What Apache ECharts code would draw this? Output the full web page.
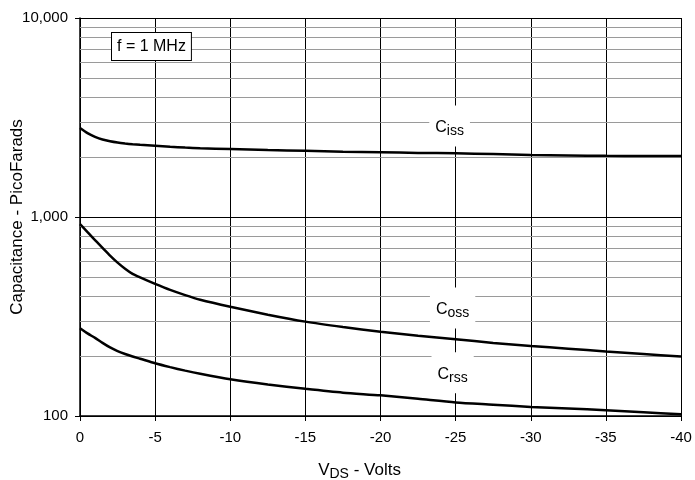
<!DOCTYPE html>
<html>
<head>
<meta charset="utf-8">
<script src="https://cdn.jsdelivr.net/npm/echarts@6/dist/echarts.min.js"></script>
<style>html,body{margin:0;padding:0;background:#fff}#c{width:695px;height:480px}</style>
</head>
<body>
<div id="c"></div>
<script>
// ---- data ----
var vds  = [0, -0.5, -1, -1.5, -2, -2.5, -3, -3.5, -4, -5, -6, -7, -8, -10, -12.5, -15, -17.5, -20, -22.5, -25, -27.5, -30, -32.5, -35, -37.5, -40];
var ciss = [2800, 2640, 2530, 2450, 2400, 2365, 2340, 2320, 2305, 2280, 2255, 2232, 2215, 2195, 2170, 2150, 2130, 2115, 2100, 2090, 2070, 2050, 2038, 2030, 2027, 2025];
var coss = [920, 840, 765, 700, 640, 590, 550, 518, 497, 461, 430, 405, 384, 354, 323, 298, 280, 265, 253, 243, 233, 225, 218, 211, 205, 199];
var crss = [276, 260, 247, 233, 221, 212, 205, 199, 194, 184, 176, 169, 163, 153, 144, 137, 131, 127, 122, 117, 114, 111, 109, 107, 104.5, 102];
var minorGrid = [200, 300, 400, 500, 600, 700, 800, 900, 2000, 3000, 4000, 5000, 6000, 7000, 8000, 9000];
var curveLabels = [
  {sub: 'iss', v: -24.6, c: 2866},
  {sub: 'oss', v: -24.8, c: 349},
  {sub: 'rss', v: -24.8, c: 165}
];
var xTitleMain = 'V', xTitleSub = 'DS', xTitleRest = ' - Volts';
var yTitle = 'Capacitance - PicoFarads';
var noteText = 'f = 1 MHz';

var FONT = "'Liberation Sans', Arial, sans-serif";
function pairs(xs, ys) { return xs.map(function (x, i) { return [x, ys[i]]; }); }

function curve(name, ys) {
  return {
    name: name, type: 'line', data: pairs(vds, ys), showSymbol: false, symbol: 'none',
    smooth: 0.25, z: 5, silent: true,
    lineStyle: {color: '#000', width: 2.5}
  };
}

var chart = echarts.init(document.getElementById('c'), null, {renderer: 'canvas'});
chart.setOption({
  animation: false,
  backgroundColor: '#fff',
  textStyle: {fontFamily: FONT},
  grid: {left: 80, right: 14, top: 18, bottom: 64, containLabel: false, outerBoundsMode: 'none'},
  xAxis: {
    type: 'value', min: -40, max: 0, interval: 5, inverse: true,
    name: '{a|' + xTitleMain + '}{b|' + xTitleSub + '}{a|' + xTitleRest + '}',
    nameLocation: 'middle', nameGap: 44, nameMoveOverlap: false,
    nameTextStyle: {
      padding: [0, 42, 0, 0],
      rich: {
        a: {fontSize: 17, color: '#000', fontFamily: FONT},
        b: {fontSize: 14, color: '#000', fontFamily: FONT, padding: [7, 0, 0, 0]}
      }
    },
    axisLine: {show: true, lineStyle: {color: '#000', width: 1.5}},
    axisTick: {show: true, length: 5, lineStyle: {color: '#000'}},
    axisLabel: {color: '#000', fontSize: 15, margin: 14, fontFamily: FONT},
    splitLine: {show: true, lineStyle: {color: '#000', width: 1}}
  },
  yAxis: {
    type: 'log', logBase: 10, min: 100, max: 10000,
    name: yTitle, nameLocation: 'middle', nameGap: 54, nameRotate: 90, nameMoveOverlap: false,
    nameTextStyle: {color: '#000', fontSize: 17, fontFamily: FONT},
    axisLine: {show: true, lineStyle: {color: '#000', width: 1.5}},
    axisTick: {show: true, length: 5, lineStyle: {color: '#000'}},
    axisLabel: {
      color: '#000', fontSize: 15, margin: 12, fontFamily: FONT,
      formatter: function (v) { return Math.round(v).toLocaleString('en-US'); }
    },
    splitLine: {show: true, lineStyle: {color: '#000', width: 1}}
  },
  series: [
    {
      name: 'minor', type: 'line', data: [], z: 1, silent: true,
      markLine: {
        silent: true, symbol: ['none', 'none'], animation: false,
        label: {show: false},
        lineStyle: {color: '#9a9a9a', width: 1, type: 'solid'},
        emphasis: {disabled: true},
        data: minorGrid.map(function (v) { return {yAxis: v}; })
      }
    },
    curve('Ciss', ciss),
    curve('Coss', coss),
    curve('Crss', crss),
    {
      name: 'labels', type: 'line', data: [], z: 10, silent: true,
      markPoint: {
        silent: true, symbol: 'rect', symbolSize: 0, animation: false,
        itemStyle: {color: 'rgba(0,0,0,0)'},
        label: {
          show: true, position: 'inside', backgroundColor: '#fff',
          padding: [12, 6, 8, 6],
          rich: {
            c: {fontSize: 16, color: '#000', fontFamily: FONT},
            s: {fontSize: 14, color: '#000', fontFamily: FONT, padding: [7, 0, 0, 0]}
          }
        },
        data: curveLabels.map(function (d) {
          return {coord: [d.v, d.c], value: d.sub,
            label: {formatter: '{c|C}{s|' + d.sub + '}'}};
        })
      }
    }
  ],
  graphic: [{
    type: 'text', left: 111, top: 32, z: 100,
    style: {
      text: noteText, fill: '#000', font: '16px ' + FONT,
      backgroundColor: '#fff', borderColor: '#000', borderWidth: 1,
      padding: [6, 5, 5, 5]
    }
  }]
});
</script>
</body>
</html>
